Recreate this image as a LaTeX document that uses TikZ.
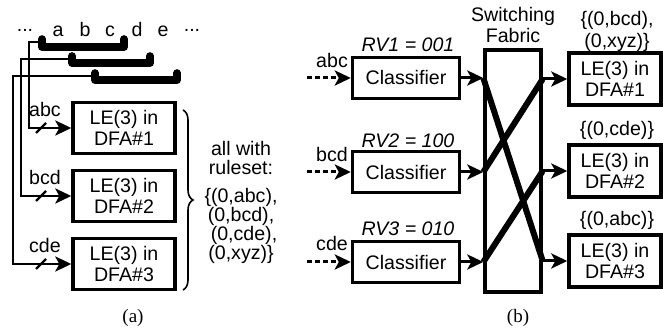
\documentclass[tikz,border=0pt]{standalone}
\usepackage{fontspec}
\setmainfont{Liberation Sans}
\newfontfamily\capfont{Liberation Serif}
\usetikzlibrary{arrows.meta,positioning,decorations.pathreplacing}
\tikzset{
  px/.style={x=0.5pt, y=-0.5pt},
  lbl/.style={inner sep=1pt, font=\fontsize{9.8}{10.5}\selectfont},
  rvlbl/.style={inner sep=1pt, font=\fontsize{9.8}{10.5}\selectfont\itshape},
  lebox/.style={rectangle, draw, line width=1.7pt, minimum width=51pt, minimum height=25.5pt,
                align=center, inner sep=1pt, font=\fontsize{9.8}{10.2}\selectfont},
  clsbox/.style={lebox, minimum width=53.5pt, minimum height=20.5pt},
  dfabox/.style={lebox, minimum width=46pt, minimum height=26pt},
  fabric/.style={rectangle, draw, line width=1.7pt, minimum width=28pt, minimum height=121pt, inner sep=0pt},
  window/.style={line width=3.8pt, line cap=round, line join=round},
  feed/.style={line width=1.3pt, -{Stealth[length=8pt, width=7.5pt, inset=2pt]}},
  busmark/.style={line width=1.2pt},
  flow/.style={line width=1.5pt, -{Stealth[length=8pt, width=7.5pt, inset=2pt]}},
  dashin/.style={flow, dash pattern=on 2.5pt off 1.5pt},
  swline/.style={line width=3pt},
  setbrace/.style={decorate, decoration={brace, amplitude=5pt}, line width=0.8pt},
  capt/.style={inner sep=1pt, font=\capfont\fontsize{9.5}{11}\selectfont},
}
\begin{document}
\begin{tikzpicture}[px]
\useasboundingbox (0,0) rectangle (663,330);
% (a) input stream and windows
\node[lbl, anchor=base] (dl) at (25,37) {\raisebox{2.5pt}{...}};
\node[lbl, anchor=base] (sa) at (58,37) {a};
\node[lbl, anchor=base] (sb) at (85,37) {b};
\node[lbl, anchor=base] (sc) at (110,37) {c};
\node[lbl, anchor=base] (sd) at (137,37) {d};
\node[lbl, anchor=base] (se) at (163,37) {e};
\node[lbl, anchor=base] (dr) at (192,37) {\raisebox{2.5pt}{...}};
\draw[window] (42,39) -- (42,47) -- (124,47) -- (124,39);
\draw[window] (72,56) -- (72,63) -- (150,63) -- (150,56);
\draw[window] (95,73) -- (95,80) -- (177,80) -- (177,73);
\coordinate (w1) at (42,42); \coordinate (t1) at (29,42);
\coordinate (w2) at (72,59); \coordinate (t2) at (21,59);
\coordinate (w3) at (95,76); \coordinate (t3) at (13,76);
\node[lebox] (le1) at (124,128) {LE(3) in\\DFA\#1};
\node[lebox] (le2) at (124,196) {LE(3) in\\DFA\#2};
\node[lebox] (le3) at (124,264) {LE(3) in\\DFA\#3};
\draw[feed] (w1) -- (t1) |- (le1.west);
\draw[feed] (w2) -- (t2) |- (le2.west);
\draw[feed] (w3) -- (t3) |- (le3.west);
\draw[busmark] (36,133) -- (46,123);
\draw[busmark] (36,201) -- (46,191);
\draw[busmark] (36,269) -- (46,259);
\node[lbl, anchor=base] (in1) at (45,117) {abc};
\node[lbl, anchor=base] (in2) at (45,185) {bcd};
\node[lbl, anchor=base] (in3) at (45,253) {cde};
\coordinate (bt) at (183,110); \coordinate (bb) at (183,290);
\draw[setbrace] (bt) -- (bb);
\node[lbl, align=center, font=\fontsize{9.8}{9.5}\selectfont] (allw) at (241,158) {all with\\ruleset:};
\node[lbl, align=center, font=\fontsize{9.8}{9.5}\selectfont] (rs) at (241,226) {\{(0,abc),\\(0,bcd),\\\hspace*{3pt}(0,cde),\\(0,xyz)\}};
\node[capt] (capa) at (133,318) {(a)};
% (b) classifiers, switching fabric, DFAs
\node[clsbox] (cl1) at (406,78) {Classifier};
\node[clsbox] (cl2) at (406,172) {Classifier};
\node[clsbox] (cl3) at (406,262) {Classifier};
\node[rvlbl] (rv1) at (408,45) {RV1 = 001};
\node[rvlbl] (rv2) at (408,141) {RV2 = 100};
\node[rvlbl] (rv3) at (408,229) {RV3 = 010};
\coordinate (src1) at (307,78); \coordinate (src2) at (307,172); \coordinate (src3) at (307,262);
\draw[dashin] (src1) -- (cl1.west);
\draw[dashin] (src2) -- (cl2.west);
\draw[dashin] (src3) -- (cl3.west);
\node[lbl, anchor=base] (ab) at (332,68) {abc};
\node[lbl, anchor=base] (bc) at (332,162) {bcd};
\node[lbl, anchor=base] (cd) at (332,251) {cde};
\node[fabric] (fab) at (513,171) {};
\node[lbl, align=center, font=\fontsize{9.8}{10.5}\selectfont] (swf) at (513,25) {Switching\\Fabric};
\node[dfabox] (dfa1) at (615,79) {LE(3) in\\DFA\#1};
\node[dfabox] (dfa2) at (615,171) {LE(3) in\\DFA\#2};
\node[dfabox] (dfa3) at (615,261) {LE(3) in\\DFA\#3};
\draw[flow] (cl1.east) -- (fab.west |- cl1);
\draw[flow] (cl2.east) -- (fab.west |- cl2);
\draw[flow] (cl3.east) -- (fab.west |- cl3);
\draw[swline] (fab.west |- cl1) -- (fab.east |- dfa3);
\draw[swline] (fab.west |- cl2) -- (fab.east |- dfa1);
\draw[swline] (fab.west |- cl3) -- (fab.east |- dfa2);
\draw[flow] (fab.east |- dfa1) -- (dfa1.west);
\draw[flow] (fab.east |- dfa2) -- (dfa2.west);
\draw[flow] (fab.east |- dfa3) -- (dfa3.west);
\node[lbl, align=center, font=\fontsize{9.8}{11}\selectfont] (r1) at (617,31) {\{(0,bcd),\\(0,xyz)\}};
\node[lbl] (r2) at (617,130) {\{(0,cde)\}};
\node[lbl] (r3) at (617,220) {\{(0,abc)\}};
\node[capt] (capb) at (518,318) {(b)};
\end{tikzpicture}
\end{document}
